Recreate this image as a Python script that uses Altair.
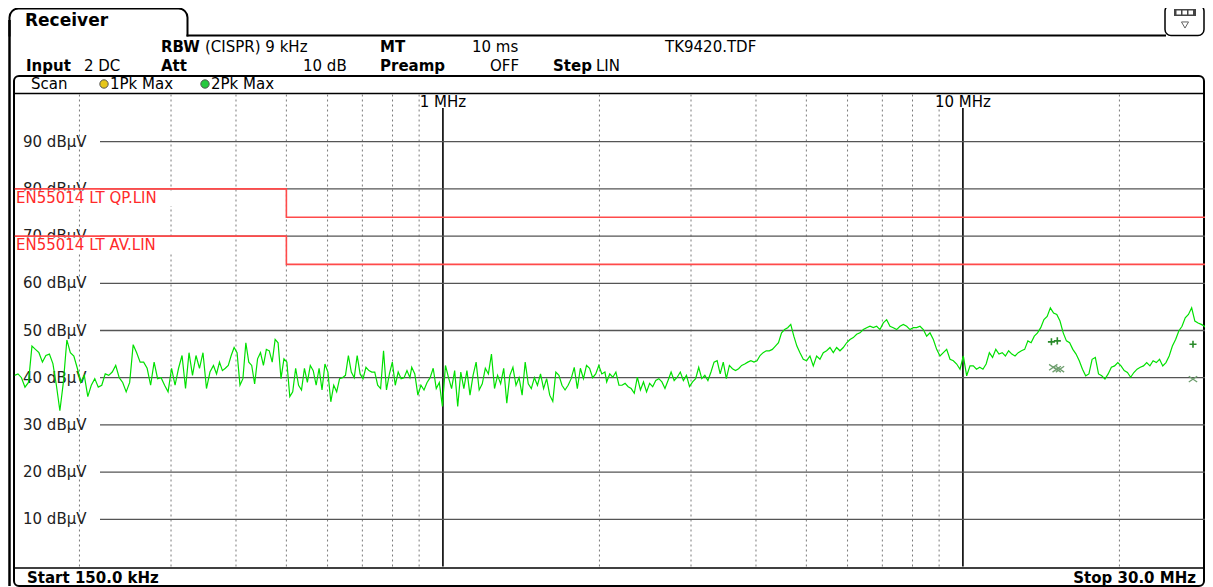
import altair as alt
import numpy as np
import pandas as pd

# ---------------- data ----------------
# 2Pk Max trace (dBuV), read in six frequency segments (start kHz, stop kHz)
SEG1 = [40.5, 40.8, 40.0, 38.0, 39.0, 46.7, 46.0, 45.3, 43.3, 44.7,
        45.0, 43.0, 38.4, 33.0, 39.0, 48.0, 45.3, 44.6, 42.0, 39.0,
        40.5, 36.0, 38.4, 39.8, 38.0, 38.4, 40.8, 40.5, 41.2, 42.6,
        40.0, 39.0, 37.0, 39.0, 47.0, 45.3, 43.3, 43.3, 42.0, 38.4,
        43.3, 39.8, 40.0, 38.4, 37.0, 42.0, 38.4, 42.0, 44.7, 37.7,
        45.3, 40.5, 44.7, 42.0, 45.3, 37.7, 41.2, 42.6]
SEG2 = [40.8, 43.3, 41.5, 42.0, 42.6, 44.7, 46.4, 45.3, 38.4, 39.8,
        47.4, 43.3, 42.6, 38.7, 44.0, 45.3, 42.6, 46.0, 45.7, 43.3,
        48.1, 47.4, 39.8, 44.0, 43.3, 36.0, 37.0, 42.0, 38.4, 37.4,
        42.0, 39.0, 42.6, 41.5, 38.4, 42.0, 37.4, 42.9, 41.2, 34.9,
        38.4, 37.0, 39.8, 40.0, 40.5, 44.7, 41.2, 40.0, 44.7, 40.8,
        39.8, 42.2, 41.5, 41.2, 41.2, 38.4, 37.7, 45.7, 37.4, 40.8,
        43.3, 38.4, 41.2, 39.8, 40.0, 41.5, 40.0]
SEG3 = [42.2, 40.8, 36.3, 38.4, 37.4, 39.0, 40.0, 42.0, 37.7, 39.0,
        33.9, 42.6, 40.0, 37.7, 41.5, 33.9, 41.2, 37.7, 41.5, 36.3,
        40.5, 43.3, 37.4, 38.7, 42.0, 40.8, 45.0, 37.7, 40.5, 38.7,
        42.0, 34.6, 40.5, 42.2, 38.4, 40.0, 36.3, 43.3, 38.7, 37.7,
        40.0, 38.4, 40.8, 37.7, 39.8, 36.3, 35.0, 41.2, 40.5, 38.4,
        37.4, 38.4, 39.8, 42.2, 37.7, 42.0, 39.8, 42.6, 42.0, 40.0,
        40.8, 42.6, 40.8, 41.2]
SEG4 = [39.1, 40.8, 40.1, 41.2, 38.4, 38.4, 38.8, 38.1, 37.7, 36.7,
        40.1, 37.4, 39.1, 37.0, 38.8, 38.1, 39.4, 39.8, 39.1, 37.7,
        39.4, 41.2, 39.4, 40.1, 41.2, 39.4, 40.5, 38.1, 39.1, 39.8,
        42.2, 39.8, 40.5, 39.4, 41.2, 43.3, 43.6, 40.8, 43.3, 39.8,
        42.6, 41.9, 41.5, 41.9, 42.6, 42.9, 43.3, 43.6, 43.3, 43.6,
        44.7, 45.3, 45.7, 45.7, 46.0, 46.7, 47.4, 49.5, 50.2, 50.6,
        51.3, 48.8, 46.7, 45.3]
SEG5 = [43.9, 43.6, 44.6, 42.5, 44.6, 43.9, 45.3, 45.7, 46.4, 45.3,
        46.4, 45.7, 46.4, 47.4, 48.1, 48.5, 49.2, 49.5, 50.2, 50.6,
        50.9, 50.6, 50.9, 50.2, 51.6, 52.3, 50.9, 50.6, 50.2, 50.9,
        51.3, 50.9, 50.2, 50.6, 50.6, 50.9, 50.2, 48.8, 49.5, 48.1,
        46.0, 44.6, 45.3, 46.0, 43.9, 43.6, 42.9, 41.8, 44.6, 40.4,
        42.5]
SEG6 = [42.5, 41.8, 42.2, 41.8, 42.9, 45.3, 44.3, 46.0, 45.0, 45.3,
        44.6, 45.7, 45.0, 44.6, 45.3, 45.7, 46.0, 47.8, 47.4, 48.8,
        49.5, 50.6, 52.3, 53.0, 54.8, 53.7, 53.4, 52.0, 49.5, 47.8,
        47.4, 46.0, 45.0, 43.6, 41.8, 40.4, 40.8, 43.9, 44.3, 40.8,
        40.4, 39.7, 40.8, 42.2, 42.5, 43.2, 42.5, 41.5, 41.1, 40.1,
        41.1, 41.8, 42.2, 42.5, 43.2, 42.5, 43.6, 43.2, 43.9, 42.5,
        43.2, 44.6, 46.7, 48.1, 49.9, 50.9, 52.7, 53.4, 54.8, 52.0,
        51.6, 51.3, 50.9, 50.2, 50.6]
SEG_START_KHZ = [150, 367, 871, 2065, 4932, 10471]
SEG_STOP_KHZ = [362, 864, 2049, 4860, 10320, 29990]
SEGMENTS = [SEG1, SEG2, SEG3, SEG4, SEG5, SEG6]

# limit lines
QP_F = [0.15, 0.5, 0.5, 30.0]
QP_V = [80, 80, 74, 74]
AV_F = [0.15, 0.5, 0.5, 30.0]
AV_V = [70, 70, 64, 64]

# final measurement markers
PK_MARK_F = [14.8, 15.19, 27.7]
PK_MARK_V = [47.6, 47.8, 47.1]
AV_MARK_F = [14.92, 15.15, 15.37, 27.7]
AV_MARK_V = [42.2, 41.8, 41.8, 39.7]

# axes / grid
Y_TICKS = [10, 20, 30, 40, 50, 60, 70, 80, 90]
Y_LABELS = [f"{t} dBµV" for t in Y_TICKS]
GRID_DASHED = [0.2, 0.3, 0.4, 0.5, 0.6, 0.7, 0.8, 0.9,
               2, 3, 4, 5, 6, 7, 8, 9, 20]
GRID_SOLID = [1, 10]
GRID_SOLID_LABELS = ["1 MHz", "10 MHz"]

# ---------------- build tables ----------------
rows = []
for s, e, seg in zip(SEG_START_KHZ, SEG_STOP_KHZ, SEGMENTS):
    fr = np.geomspace(s, e, len(seg)) / 1000.0
    for f, v in zip(fr, seg):
        rows.append({"f": float(f), "v": float(v)})
trace = pd.DataFrame(rows)
trace["i"] = range(len(trace))

qp = pd.DataFrame({"f": QP_F, "v": QP_V, "i": range(4)})
av = pd.DataFrame({"f": AV_F, "v": AV_V, "i": range(4)})
pkm = pd.DataFrame({"f": PK_MARK_F, "v": PK_MARK_V})
avm = pd.DataFrame({"f": AV_MARK_F, "v": AV_MARK_V})
yt = pd.DataFrame({"v": Y_TICKS, "label": Y_LABELS})
gd = pd.DataFrame({"f": GRID_DASHED})
gs = pd.DataFrame({"f": GRID_SOLID, "label": GRID_SOLID_LABELS})
one = pd.DataFrame({"a": [0]})

# the page is 1213 px wide with an 8 px margin: keep the drawing 1197 px wide
RIGHT = 1205.0
W, H = RIGHT - 14.5, 472.0
OX, OY = 14.5, 94.5
FONT = "DejaVu Sans"
BOTTOM = 586.0
# one decade spans 520 px in the reference; the visible right edge is 6 px
# short of the 30 MHz stop, so end the visible range accordingly
F_RIGHT = 30.0 * 10 ** (-(1211.0 - RIGHT) / 520.0)

XS = alt.Scale(type="log", domain=[0.15, F_RIGHT], nice=False)
YS = alt.Scale(domain=[0, 100], nice=False)
X = alt.X("f:Q", scale=XS, axis=None)
Y = alt.Y("v:Q", scale=YS, axis=None)


def vx(px):
    return alt.value(px - OX)


def vy(py):
    return alt.value(py - OY)


def hline(y, x1, x2, color="black", w=1.0):
    return alt.Chart(one).mark_rule(color=color, strokeWidth=w).encode(
        x=vx(x1), x2=vx(x2), y=vy(y))


def vline(x, y1, y2, color="black", w=1.0):
    return alt.Chart(one).mark_rule(color=color, strokeWidth=w).encode(
        x=vx(x), y=vy(y1), y2=vy(y2))


def txt(s, x, y, size=15, bold=False, color="black", align="left"):
    return alt.Chart(one).mark_text(
        text=s, font=FONT, fontSize=size,
        fontWeight="bold" if bold else "normal",
        color=color, align=align, baseline="middle").encode(x=vx(x), y=vy(y))


def box(x1, y1, x2, y2, **kw):
    return alt.Chart(one).mark_rect(**kw).encode(
        x=vx(x1), x2=vx(x2), y=vy(y1), y2=vy(y2))


layers = []

# background
layers.append(box(0, 0, RIGHT + 8, 600, fill="white"))

# receiver tab
layers.append(box(9.5, 8.5, 187.5, 60, fill="white", stroke="black",
                  strokeWidth=2, cornerRadiusTopLeft=9, cornerRadiusTopRight=9))
layers.append(box(8, 36.5, 190, 62, fill="white"))
layers.append(hline(35.5, 186.5, 1166, w=2))
layers.append(vline(9.5, 20, BOTTOM, w=2.5))
layers.append(txt("Receiver", 25, 21, size=17, bold=True))

# icon button
layers.append(box(1165, 5, RIGHT - 1, 35.5, fill="white", stroke="black",
                  strokeWidth=1.5, cornerRadius=6))
layers.append(box(1174, 9, 1196, 16, fill="#444"))
for xa in (1176.5, 1182.5, 1188.5):
    layers.append(box(xa, 10.5, xa + 4.5, 14.5, fill="white"))
layers.append(alt.Chart(one).mark_point(
    shape="triangle-down", filled=False, color="#222", size=50,
    strokeWidth=1).encode(x=vx(1185), y=vy(25)))

# info rows
layers += [
    txt("RBW", 161, 46.5, bold=True),
    txt("(CISPR) 9 kHz", 205, 46.5),
    txt("MT", 380, 46.5, bold=True),
    txt("10 ms", 472, 46.5),
    txt("TK9420.TDF", 665, 46.5),
    txt("Input", 26, 65.5, bold=True),
    txt("2 DC", 84, 65.5),
    txt("Att", 161, 65.5, bold=True),
    txt("10 dB", 303, 65.5),
    txt("Preamp", 380, 65.5, bold=True),
    txt("OFF", 490, 65.5),
    txt("Step", 553, 65.5, bold=True),
    txt("LIN", 596, 65.5),
]

# scan frame
layers.append(box(14, 76, RIGHT - 1, BOTTOM, fill="white", stroke="black",
                  strokeWidth=2, cornerRadius=5))
layers.append(txt("Scan", 31, 84))
layers.append(alt.Chart(one).mark_point(
    shape="circle", filled=True, fill="#e6c619", stroke="#555",
    strokeWidth=1, size=70, opacity=1).encode(x=vx(104), y=vy(84)))
layers.append(txt("1Pk Max", 110, 84))
layers.append(alt.Chart(one).mark_point(
    shape="circle", filled=True, fill="#27c93f", stroke="#555",
    strokeWidth=1, size=70, opacity=1).encode(x=vx(205), y=vy(84)))
layers.append(txt("2Pk Max", 211, 84))
layers.append(hline(93.5, 14, RIGHT - 1, w=1.5))

# grid
layers.append(alt.Chart(gd).mark_rule(
    color="#7a7a7a", strokeWidth=1, strokeDash=[2, 3]).encode(
    x=X, y=alt.value(0), y2=alt.value(H)))
layers.append(alt.Chart(gs).mark_rule(color="black", strokeWidth=1.6).encode(
    x=X, y=vy(108), y2=alt.value(H)))
layers.append(alt.Chart(gs).mark_text(
    font=FONT, fontSize=15, color="black", align="center",
    baseline="middle").encode(x=X, y=vy(102), text="label:N"))
layers.append(alt.Chart(yt).mark_rule(color="#555", strokeWidth=1.3).encode(
    y=Y, x=vx(100), x2=alt.value(W)))
layers.append(alt.Chart(yt).mark_text(
    font=FONT, fontSize=15, color="#222", align="left",
    baseline="middle").encode(y=Y, x=vx(23), text="label:N"))

# limit line labels
layers.append(box(15, 190.5, 203, 206, fill="white"))
layers.append(box(15, 237.5, 203, 253, fill="white"))
layers.append(txt("EN55014 LT QP.LIN", 16, 198, color="#ff2a2a"))
layers.append(txt("EN55014 LT AV.LIN", 16, 245, color="#ff2a2a"))

# limit lines
layers.append(alt.Chart(qp).mark_line(
    color="#ff4a4a", strokeWidth=1.6, clip=True).encode(x=X, y=Y, order="i:Q"))
layers.append(alt.Chart(av).mark_line(
    color="#ff4a4a", strokeWidth=1.6, clip=True).encode(x=X, y=Y, order="i:Q"))

# trace
layers.append(alt.Chart(trace).mark_line(
    color="#00e000", strokeWidth=1.2, clip=True).encode(x=X, y=Y, order="i:Q"))

# final markers
layers.append(alt.Chart(pkm).mark_point(
    shape="M-1,0L1,0M0,-1L0,1", filled=False, color="#2a8a2a",
    strokeWidth=1.6, size=50, opacity=1).encode(x=X, y=Y))
layers.append(alt.Chart(avm).mark_point(
    shape="M-1,-0.7L1,0.7M-1,0.7L1,-0.7", filled=False, color="#6f9f6f",
    strokeWidth=1.3, size=70, opacity=1).encode(x=X, y=Y))

# bottom bar
layers.append(hline(568, 14, RIGHT - 1, w=1.5))
layers.append(txt("Start 150.0 kHz", 27, 577.5, size=15, bold=True))
layers.append(txt("Stop 30.0 MHz", 1196, 577.5, size=15, bold=True, align="right"))

chart = alt.layer(*layers).properties(
    width=W, height=H,
    padding={"left": 6.5, "top": 86.5, "right": 0, "bottom": 20.5},
    autosize=alt.AutoSizeParams(type="none"),
    background="white",
).configure_view(stroke=None)

chart.save("out.html", embed_options={"renderer": "svg", "actions": False})
